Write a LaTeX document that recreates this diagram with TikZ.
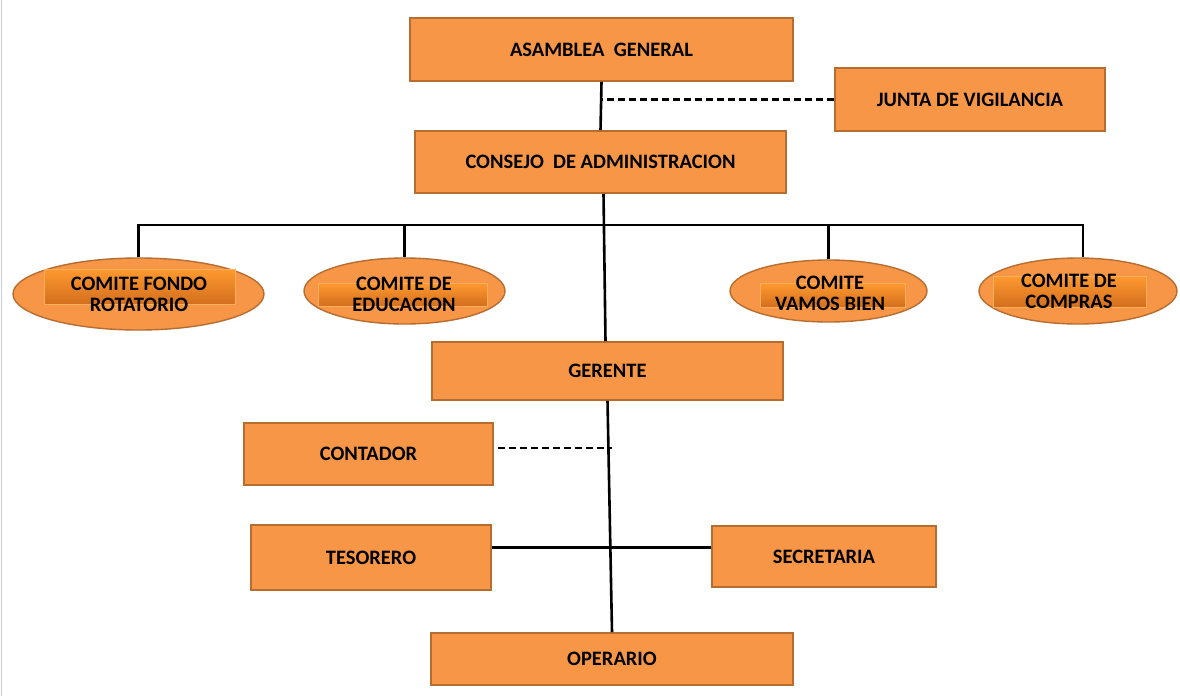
\documentclass[tikz,border=0pt]{standalone}
\usepackage{fontspec}
\setmainfont{Carlito}
\usetikzlibrary{shapes.geometric}
\definecolor{boxfill}{HTML}{F79646}
\definecolor{boxline}{HTML}{B66D31}
\definecolor{bartop}{HTML}{FF9A30}
\definecolor{barbot}{HTML}{D36E1E}
\definecolor{edgegray}{HTML}{C9CED8}
\begin{document}
\begin{tikzpicture}[x=1pt,y=-1pt,
  box/.style={draw=boxline, fill=boxfill, line width=1.6pt, inner sep=0pt,
    font=\bfseries\fontsize{20.5}{22}\selectfont},
  oval/.style={ellipse, draw=boxline, fill=boxfill, line width=1.4pt, inner sep=0pt},
  bar/.style={rectangle, top color=bartop, bottom color=barbot, draw=bartop!80!white,
    line width=0.4pt, inner sep=0pt},
  ovaltext/.style={align=center, inner sep=0pt, font=\bfseries\fontsize{20.5}{21}\selectfont},
  link/.style={line width=2.6pt, black},
  dashlink/.style={link, dash pattern=on 7pt off 4pt}]

\useasboundingbox (0,0) rectangle (1180,696);
\fill[white] (0,0) rectangle (1180,696);
\draw[edgegray, line width=1pt] (1,0) -- (1,696);

% main boxes
\node[box, minimum width=383pt, minimum height=63pt] (asamblea) at (601.5,49.5) {ASAMBLEA\ \ GENERAL};
\node[box, minimum width=270pt, minimum height=63pt] (junta) at (970,99.5) {JUNTA DE VIGILANCIA};
\node[box, minimum width=371pt, minimum height=62pt] (consejo) at (600.5,162) {CONSEJO\ \ DE ADMINISTRACION};
\node[box, minimum width=351pt, minimum height=58pt] (gerente) at (607.5,371) {GERENTE};
\node[box, minimum width=249pt, minimum height=62pt] (contador) at (368.5,454) {CONTADOR};
\node[box, minimum width=240pt, minimum height=65pt] (tesorero) at (371,557.5) {TESORERO};
\node[box, minimum width=224pt, minimum height=61pt] (secretaria) at (824,556.5) {SECRETARIA};
\node[box, minimum width=362pt, minimum height=52pt] (operario) at (612,659) {OPERARIO};

% committees
\node[oval, minimum width=251pt, minimum height=72pt] (e1) at (138.5,294) {};
\node[bar, minimum width=191pt, minimum height=35pt] (e1bar) at (139.5,286.5) {};
\node[ovaltext] (e1txt) at (139,294.5) {COMITE FONDO\\ROTATORIO};

\node[oval, minimum width=201pt, minimum height=66pt] (e2) at (404.5,291) {};
\node[bar, minimum width=169pt, minimum height=23pt] (e2bar) at (402.5,294.5) {};
\node[ovaltext] (e2txt) at (404,294) {COMITE DE\\EDUCACION};

\node[oval, minimum width=197pt, minimum height=62pt] (e3) at (828.5,291) {};
\node[bar, minimum width=145pt, minimum height=24pt] (e3bar) at (832.5,295) {};
\node[ovaltext] (e3txt) at (830,293.5) {COMITE\\VAMOS BIEN};

\node[oval, minimum width=198pt, minimum height=66pt] (e4) at (1078,291) {};
\node[bar, minimum width=153pt, minimum height=31pt] (e4bar) at (1069.5,291.5) {};
\node[ovaltext] (e4txt) at (1069,291.5) {COMITE DE\\COMPRAS};

% connectors
\coordinate (bus) at (0,225);
\draw[link] (asamblea.south) -- (consejo.north);
\draw[dashlink] (junta.west) -- (junta.west -| asamblea.south);
\draw[link] ([xshift=3pt]consejo.south) -- ([xshift=-2pt]gerente.north);
\draw[link] (e1.north) -- (e1.north |- bus) -- ([xshift=5pt]e4.north |- bus) -- ([xshift=5pt]e4.north);
\draw[link] (e2.north) -- (e2.north |- bus);
\draw[link] (e3.north) -- (e3.north |- bus);
\draw[link] (gerente.south) -- (operario.north);
\draw[dashlink] ([xshift=4pt,yshift=6pt]contador.east) -- ([xshift=4pt,yshift=6pt]contador.east -| gerente.south);
\draw[link] ([yshift=10pt]tesorero.east) -- ([yshift=10pt]tesorero.east -| secretaria.west);
\end{tikzpicture}
\end{document}
